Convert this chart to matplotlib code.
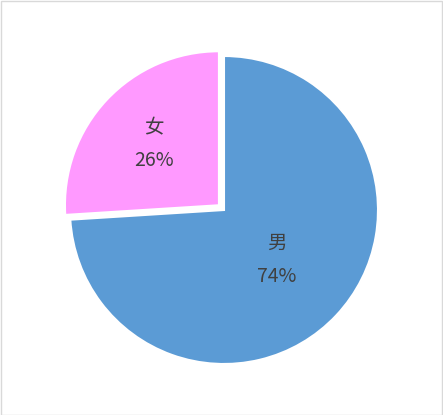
import numpy as np
import matplotlib.pyplot as plt
from matplotlib.patches import Rectangle

plt.rcParams['font.family'] = ['Noto Sans CJK SC', 'DejaVu Sans']

labels = ["男", "女"]
shares = [74, 26]
colors = ["#5B9BD5", "#FF99FF"]
explode = [0.0, 0.045]
label_r = [0.47, 0.58]

W, H = 443, 415
fig = plt.figure(figsize=(W / 100, H / 100), dpi=100)
fig.patches.append(Rectangle((0.5 / W, 0.5 / H), 1 - 1.5 / W, 1 - 1.5 / H,
                             transform=fig.transFigure, fill=False,
                             edgecolor="#D9D9D9", lw=1))

cx, cy, r = 224, 210, 154
lim = 1.3
ax = fig.add_axes([(cx - r * lim) / W, (H - cy - r * lim) / H,
                   2 * r * lim / W, 2 * r * lim / H])
wedges, _ = ax.pie(shares, colors=colors, explode=explode, startangle=90,
                   counterclock=False, radius=1,
                   wedgeprops=dict(edgecolor="white", linewidth=1.5))
ax.set_xlim(-lim, lim)
ax.set_ylim(-lim, lim)
ax.set_aspect("auto")
ax.axis("off")

for w, lab, v, lr in zip(wedges, labels, shares, label_r):
    mid = np.deg2rad((w.theta1 + w.theta2) / 2)
    x0, y0 = w.center
    x, y = x0 + lr * np.cos(mid), y0 + lr * np.sin(mid)
    ax.text(x, y, f"{lab}\n{v}%", ha="center", va="center",
            fontsize=14, color="#404040", linespacing=1.75)

fig.savefig("out.png", dpi=100)
